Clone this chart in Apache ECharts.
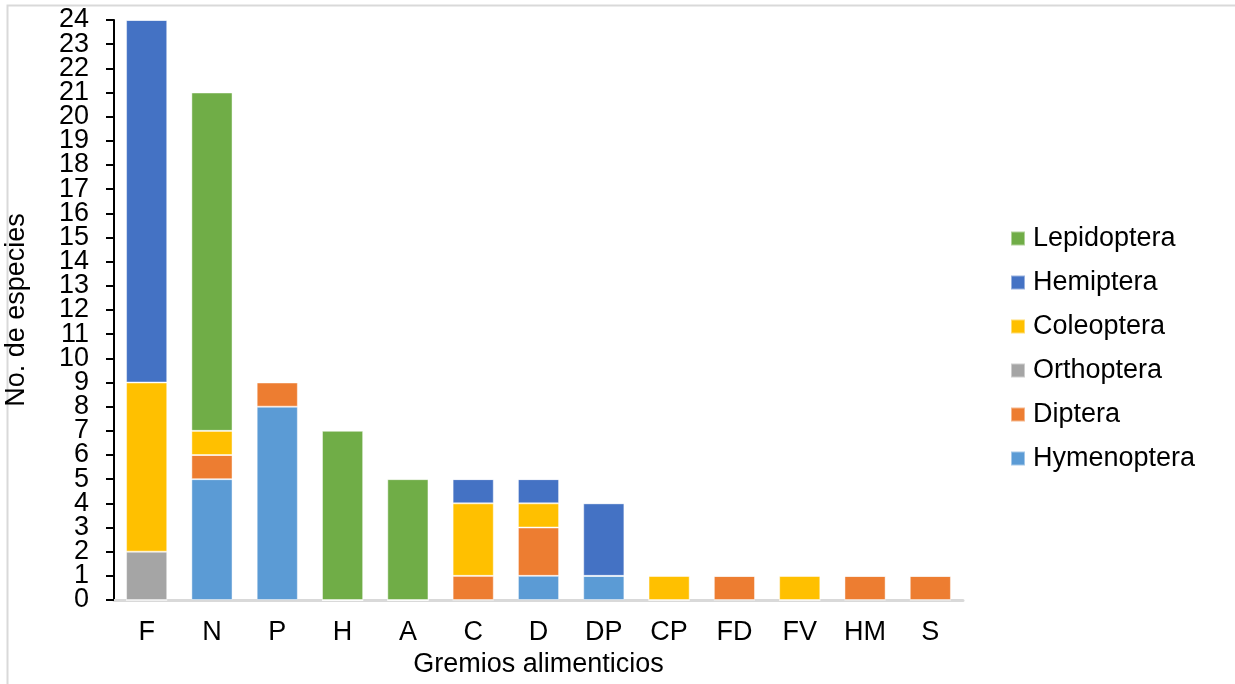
<!DOCTYPE html>
<html>
<head>
<meta charset="utf-8">
<script src="https://cdn.jsdelivr.net/npm/echarts@6/dist/echarts.min.js"></script>
<style>
  html, body { margin: 0; padding: 0; background: #fff; }
  #chart { width: 1235px; height: 684px; }
</style>
</head>
<body>
<div id="chart"></div>
<script>
// Feeding guilds (x axis)
const categories = ['F', 'N', 'P', 'H', 'A', 'C', 'D', 'DP', 'CP', 'FD', 'FV', 'HM', 'S'];

// Species counts per order, stacked bottom to top
const hymenoptera = [0, 5, 8, 0, 0, 0, 1, 1, 0, 0, 0, 0, 0];
const diptera     = [0, 1, 1, 0, 0, 1, 2, 0, 0, 1, 0, 1, 1];
const orthoptera  = [2, 0, 0, 0, 0, 0, 0, 0, 0, 0, 0, 0, 0];
const coleoptera  = [7, 1, 0, 0, 0, 3, 1, 0, 1, 0, 1, 0, 0];
const hemiptera   = [15, 0, 0, 0, 0, 1, 1, 3, 0, 0, 0, 0, 0];
const lepidoptera = [0, 14, 0, 7, 5, 0, 0, 0, 0, 0, 0, 0, 0];

const yTicks = Array.from({ length: 25 }, (_, i) => i); // 0..24

const seriesDefs = [
  { name: 'Hymenoptera', data: hymenoptera, color: '#5B9BD5' },
  { name: 'Diptera',     data: diptera,     color: '#ED7D31' },
  { name: 'Orthoptera',  data: orthoptera,  color: '#A5A5A5' },
  { name: 'Coleoptera',  data: coleoptera,  color: '#FFC000' },
  { name: 'Hemiptera',   data: hemiptera,   color: '#4472C4' },
  { name: 'Lepidoptera', data: lepidoptera, color: '#70AD47' }
];

const font = 'Liberation Sans, Arial, sans-serif';
const yMax = yTicks[yTicks.length - 1];
const labelStyle = { fontFamily: font, fontSize: 27, color: '#000', margin: 25 };
const tickStyle = { color: '#000', width: 2 };

const chart = echarts.init(document.getElementById('chart'), null, { renderer: 'canvas' });

chart.setOption({
  animation: false,
  backgroundColor: '#fff',
  graphic: [{
    type: 'rect',
    shape: { x: 7.5, y: 5.5, width: 1300, height: 800 },
    style: { fill: 'none', stroke: '#d9d9d9', lineWidth: 2 },
    silent: true
  }],
  grid: { left: 114, right: 272, top: 20, bottom: 84, containLabel: false, outerBoundsMode: 'none' },
  legend: {
    orient: 'vertical',
    left: 1005,
    top: 220,
    itemWidth: 14,
    itemHeight: 14,
    itemGap: 17,
    icon: 'rect',
    data: seriesDefs.map(s => s.name).reverse(),
    textStyle: { fontFamily: font, fontSize: 27, color: '#000', padding: [0, 0, 0, 3] }
  },
  xAxis: {
    type: 'category',
    data: categories,
    name: 'Gremios alimenticios',
    nameLocation: 'middle',
    nameGap: 50,
    nameTextStyle: { fontFamily: font, fontSize: 27, color: '#000' },
    axisLine: { lineStyle: { color: '#d9d9d9', width: 3 } },
    axisTick: { show: false },
    axisLabel: { fontFamily: font, fontSize: 27, color: '#000', margin: 19 }
  },
  yAxis: [
    {
      // main value axis: line, ticks at every unit, odd-valued labels
      type: 'value',
      min: 0,
      max: yMax,
      interval: 1,
      name: 'No. de especies',
      nameLocation: 'middle',
      nameGap: 84,
      nameTextStyle: { fontFamily: font, fontSize: 27, color: '#000' },
      axisLine: { show: true, onZero: false, lineStyle: { color: '#000', width: 2 } },
      axisTick: { show: true, inside: false, length: 8, lineStyle: tickStyle },
      splitLine: { show: false },
      axisLabel: Object.assign({}, labelStyle, {
        formatter: v => (v % 2 === 1 ? String(v) : '')
      })
    },
    {
      // companion axis on the same side: even-valued labels, ticks at every unit
      type: 'value',
      position: 'left',
      offset: 0,
      min: 0,
      max: yMax,
      interval: 2,
      axisLine: { show: false },
      axisTick: { show: true, inside: false, length: 8, lineStyle: tickStyle },
      minorTick: { show: true, splitNumber: 2, length: 8, lineStyle: tickStyle },
      splitLine: { show: false },
      minorSplitLine: { show: false },
      axisLabel: Object.assign({}, labelStyle, { showMinLabel: true, showMaxLabel: true })
    }
  ],
  series: seriesDefs.map(s => ({
    name: s.name,
    type: 'bar',
    stack: 'total',
    yAxisIndex: 0,
    barWidth: '63%',
    data: s.data,
    itemStyle: { color: s.color, borderColor: 'rgba(255,255,255,0.45)', borderWidth: 1 }
  }))
});
</script>
</body>
</html>
